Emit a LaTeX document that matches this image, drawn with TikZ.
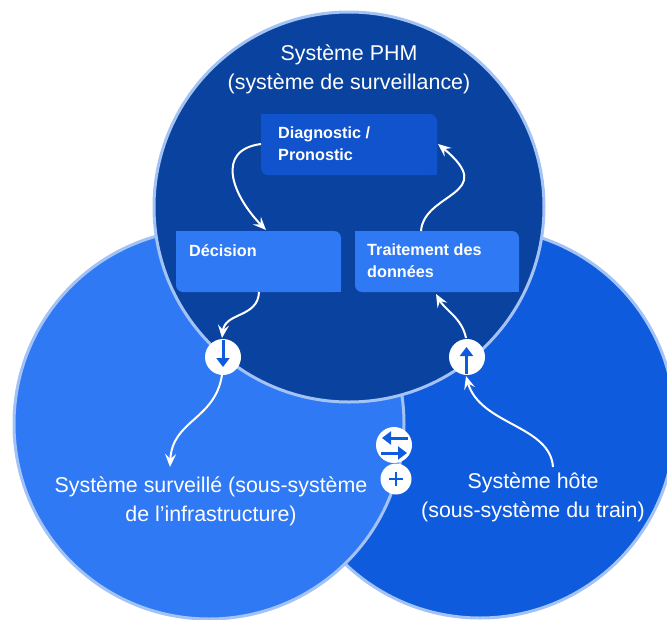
\documentclass[tikz,border=0pt]{standalone}
\usepackage{fontspec}
\setmainfont{Liberation Sans}
\usetikzlibrary{arrows.meta}
\definecolor{darkb}{HTML}{0A439F}
\definecolor{midb}{HTML}{0F5BDE}
\definecolor{lightb}{HTML}{3079F5}
\definecolor{boxb}{HTML}{1053CC}
\definecolor{ringb}{HTML}{A3C3F5}
\tikzset{
  x=1pt,y=-1pt,
  ring/.style={draw=ringb,line width=3pt},
  lbl/.style={text=white,font=\fontsize{21.4}{29}\selectfont,align=center,inner sep=0pt},
  boxlbl/.style={text=white,font=\fontsize{16.2}{21.5}\selectfont\bfseries,align=left,inner sep=0pt,anchor=north west},
  flow/.style={draw=white,line width=2pt,-{Stealth[length=13pt,width=11pt,inset=5pt]}},
  badge/.style={circle,fill=white,inner sep=0pt},
  symtip/.style={draw=midb,line width=3pt,-{Triangle[length=9pt,width=13pt]}},
}
\begin{document}
\begin{tikzpicture}
\useasboundingbox (0,0) rectangle (667,619);
\begin{scope}
\clip (0,0) rectangle (667,619);
\path[fill=midb,ring] (480,423) circle (195);
\path[fill=lightb,ring] (209,424) circle (195);
\path[fill=darkb,ring] (349,207) circle (195);
\end{scope}
% boxes
\path[fill=boxb,rounded corners=7pt] (261,114) -- (437,114) -- (437,175) -- (261,175) -- cycle;
\path[fill=boxb] (261,114) rectangle (275,128);
\path[fill=boxb] (423,161) rectangle (437,175);
\node[minimum width=176pt,minimum height=61pt,inner sep=0pt] (diag) at (349,144.5) {};
\path[fill=lightb,rounded corners=7pt] (176,231) -- (341,231) -- (341,292) -- (176,292) -- cycle;
\path[fill=lightb] (176,231) rectangle (190,245);
\path[fill=lightb] (327,278) rectangle (341,292);
\node[minimum width=165pt,minimum height=61pt,inner sep=0pt] (dec) at (258.5,261.5) {};
\path[fill=lightb,rounded corners=7pt] (355,231) -- (519,231) -- (519,292) -- (355,292) -- cycle;
\path[fill=lightb] (355,231) rectangle (369,245);
\path[fill=lightb] (505,278) rectangle (519,292);
\node[minimum width=164pt,minimum height=61pt,inner sep=0pt] (trt) at (437,261.5) {};
\node[boxlbl] (diagt) at (278,127) {Diagnostic /\\Pronostic};
\node[boxlbl] (dect) at (189,244) {Décision};
\node[boxlbl] (trtt) at (367,244) {Traitement des\\données};
% main labels
\node[lbl] (phm) at (349,69) {Système PHM\\(système de surveillance)};
\node[lbl] (surv) at (211,501) {Système surveillé (sous-système\\de l’infrastructure)};
\node[lbl] (hote) at (533,497) {Système hôte\\(sous-système du train)};
% badges
\node[badge,minimum size=36pt] (bdown) at (223,357) {};
\node[badge,minimum size=36pt] (bup) at (467,357) {};
\node[badge,minimum size=36pt] (bswap) at (394,445) {};
\node[badge,minimum size=31pt] (bplus) at (396,479) {};
% flows
\coordinate (a1) at (261,144);
\coordinate (a2) at (266,230);
\draw[flow] (a1) .. controls (215,150) and (232,195) .. (a2);
\coordinate (b1) at (421,231);
\coordinate (b2) at (438,144);
\draw[flow] (b1) .. controls (424,192) and (500,195) .. (b2);
\coordinate (c1) at (259,292);
\coordinate (c2) at (222,338);
\draw[flow] (c1) .. controls (258,318) and (225,312) .. (c2);
\coordinate (d1) at (222,375);
\coordinate (d2) at (170,467);
\draw[flow] (d1) .. controls (215,420) and (172,420) .. (d2);
\coordinate (e1) at (466,338);
\coordinate (e2) at (436,294);
\draw[flow] (e1) .. controls (462,318) and (445,310) .. (e2);
\coordinate (f1) at (553,467);
\coordinate (f2) at (466,376);
\draw[flow] (f1) .. controls (550,425) and (480,425) .. (f2);
% badge symbols
\draw[symtip] (223,340) -- (223,367);
\draw[symtip] (466.5,374) -- (466.5,347);
\draw[symtip] (408,438) -- (382,438);
\draw[symtip] (381,453) -- (407,453);
\draw[midb,line width=1.8pt] (396,472) -- (396,486) (389,479) -- (403,479);
\end{tikzpicture}
\end{document}
